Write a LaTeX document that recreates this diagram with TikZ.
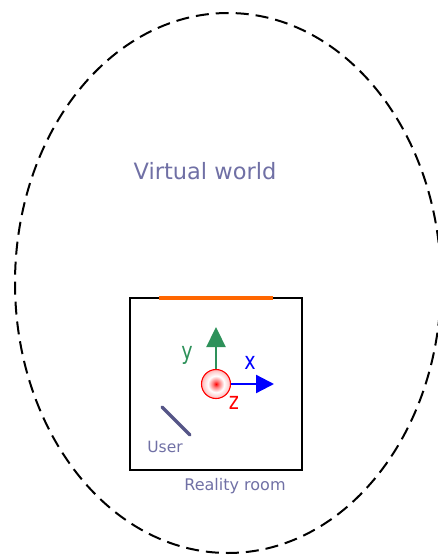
\documentclass[tikz,border=0pt]{standalone}
\usepackage{fontspec}
\setmainfont{DejaVu Sans}
\newfontfamily\axisfont[FakeStretch=0.8]{DejaVu Sans}
\usetikzlibrary{arrows.meta,shapes.geometric}
\definecolor{labelblue}{RGB}{112,112,165}
\definecolor{axisgreen}{RGB}{46,145,90}
\definecolor{wallorange}{RGB}{255,102,0}
\definecolor{userline}{RGB}{85,85,135}
% origin marker: red core, pale middle, pink rim
\pgfdeclareradialshading{originglow}{\pgfpoint{0bp}{0bp}}{%
  color(0bp)=(red);
  color(5bp)=(red!55);
  color(14bp)=(white);
  color(22bp)=(red!20);
  color(25bp)=(red!30);
  color(50bp)=(red!30)}
\tikzset{
  caption/.style={text=labelblue, inner sep=0pt},
  axis/.style={line width=2.3pt},
  axislabel/.style={inner sep=0pt, font=\axisfont\fontsize{24}{26}\selectfont},
}
\begin{document}
\begin{tikzpicture}[x=1pt,y=-1pt]
  \useasboundingbox (0,0) rectangle (438,556);
  % virtual world boundary
  \node[ellipse, draw, dash pattern=on 13pt off 7pt, line width=2pt,
        minimum width=426pt, minimum height=540pt, inner sep=0pt] (world) at (228,283) {};
  \node[caption, font=\fontsize{22.5}{26}\selectfont] (worldlabel) at (205,171) {Virtual world};
  % reality room
  \node[draw, line width=1.4pt, minimum width=172pt, minimum height=172pt, inner sep=0pt] (room) at (216,384) {};
  \coordinate (wallA) at (159,298);
  \coordinate (wallB) at (273,298);
  \draw[wallorange, line width=3.8pt] (wallA) -- (wallB);
  \node[caption, font=\fontsize{16}{18}\selectfont] (roomlabel) at (235,486) {Reality room};
  % origin and axes
  \node[circle, draw=red, line width=1.1pt, minimum size=29pt, inner sep=0pt,
        shading=originglow] (origin) at (216,384) {};
  \coordinate (ytip) at (216,327);
  \coordinate (xtip) at (274,384);
  \draw[axis, axisgreen, -{Triangle[length=20pt,width=19pt]}] (origin.north) -- (ytip);
  \draw[axis, blue, -{Triangle[length=18pt,width=18pt]}] (origin.east) -- (xtip);
  \node[axislabel, text=axisgreen] (ylabel) at (187,355.5) {y};
  \node[axislabel, text=blue] (xlabel) at (250,363) {x};
  \node[axislabel, text=red] (zlabel) at (234,402.5) {z};
  % user
  \coordinate (userA) at (162,407);
  \coordinate (userB) at (190,435);
  \draw[userline, line width=3.2pt, line cap=round] (userA) -- (userB);
  \node[caption, font=\fontsize{15.5}{18}\selectfont] (userlabel) at (165,447) {User};
\end{tikzpicture}
\end{document}
